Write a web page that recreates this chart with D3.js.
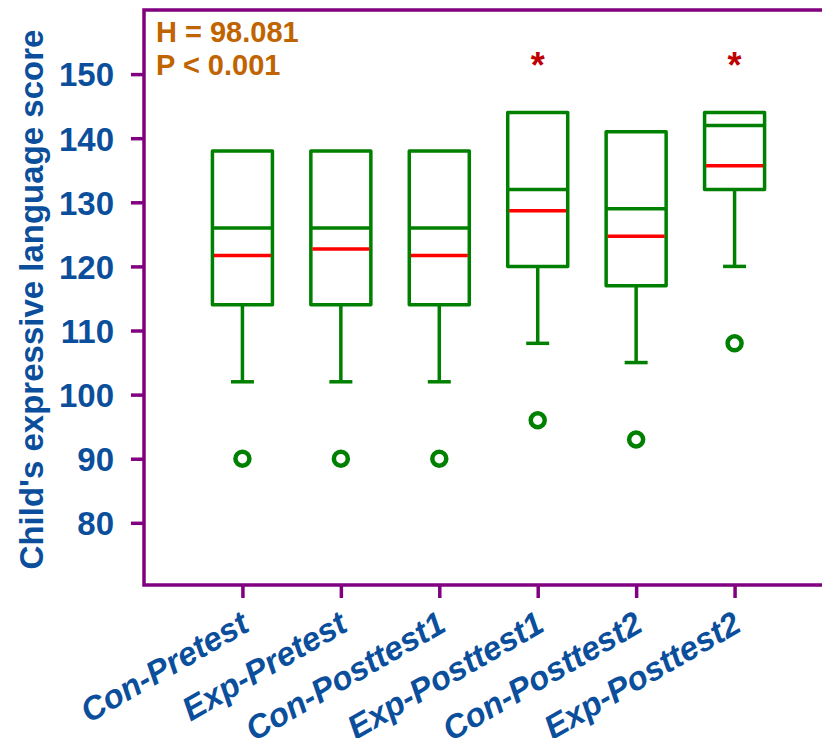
<!DOCTYPE html>
<html>
<head>
<meta charset="utf-8">
<script src="https://cdn.jsdelivr.net/npm/d3@7"></script>
<style>
  html, body { margin: 0; padding: 0; background: #fff; }
  svg { display: block; }
  text { font-family: "Liberation Sans", Arial, sans-serif; font-weight: bold; }
</style>
</head>
<body>
<svg id="chart" width="822" height="738"></svg>
<script>
// ---- data ----
const categories = ["Con-Pretest", "Exp-Pretest", "Con-Posttest1", "Exp-Posttest1", "Con-Posttest2", "Exp-Posttest2"];
const q1Values      = [114, 114, 114, 120, 117, 132];
const medianValues  = [126, 126, 126, 132, 129, 142];
const q3Values      = [138, 138, 138, 144, 141, 144];
const meanValues    = [121.7, 122.7, 121.7, 128.7, 124.7, 135.7];
const whiskerLow    = [102, 102, 102, 108, 105, 120];
const whiskerHigh   = [138, 138, 138, 144, 141, 144];
const outlierValues = [90, 90, 90, 96, 93, 108];
const significant   = ["Exp-Posttest1", "Exp-Posttest2"];
const asteriskValue = 152.3;
const yTicks = [80, 90, 100, 110, 120, 130, 140, 150];
const yDomain = [70.3, 160];
const annotations = ["H = 98.081", "P < 0.001"];
const yTitle = "Child's expressive language score";

// ---- layout ----
const plotLeft = 144, plotTop = 10, plotBottom = 585, plotRight = 833;
const axisColor = "#800080", boxColor = "#008000", meanColor = "#FF0000";
const labelColor = "#0B4F9C", annColor = "#C06400", starColor = "#C00000";

const svg = d3.select("#chart");

const x = d3.scalePoint().domain(categories).range([plotLeft, plotRight]).padding(1);
const y = d3.scaleLinear().domain(yDomain).range([plotBottom, plotTop]);

const rows = categories.map((c, i) => ({
  cat: c, q1: q1Values[i], med: medianValues[i], q3: q3Values[i],
  mean: meanValues[i], lo: whiskerLow[i], hi: whiskerHigh[i], out: outlierValues[i]
}));

const boxW = 60, capW = 23;

// frame (left, top, bottom)
svg.append("path")
  .attr("d", `M${plotRight},${plotTop} L${plotLeft},${plotTop} L${plotLeft},${plotBottom} L${plotRight},${plotBottom}`)
  .attr("fill", "none").attr("stroke", axisColor).attr("stroke-width", 3.5);

// y axis
const yAxis = svg.append("g").attr("transform", `translate(${plotLeft},0)`)
  .call(d3.axisLeft(y).tickValues(yTicks).tickSize(13).tickSizeOuter(0).tickPadding(17).tickFormat(d3.format("d")));
yAxis.select(".domain").remove();
yAxis.selectAll(".tick line").attr("stroke", axisColor).attr("stroke-width", 3.5);
yAxis.selectAll(".tick text").attr("fill", labelColor).style("font-size", "33px").attr("dy", "0.36em");

// x axis
const xAxis = svg.append("g").attr("transform", `translate(0,${plotBottom})`)
  .call(d3.axisBottom(x).tickSize(13).tickSizeOuter(0));
xAxis.select(".domain").remove();
xAxis.selectAll(".tick line").attr("stroke", axisColor).attr("stroke-width", 3.5);
xAxis.selectAll(".tick text")
  .attr("fill", labelColor).style("font-size", "33px").style("font-style", "italic")
  .attr("x", 0).attr("y", 0).attr("dy", 0)
  .attr("text-anchor", "end")
  .attr("transform", "translate(8,45) rotate(-30)");

// y title
svg.append("text")
  .attr("transform", `translate(43,${(plotTop + plotBottom) / 2 + 2}) rotate(-90)`)
  .attr("text-anchor", "middle")
  .attr("fill", labelColor).style("font-size", "33px")
  .text(yTitle);

// annotations
svg.selectAll("text.ann").data(annotations).enter().append("text")
  .attr("class", "ann")
  .attr("x", plotLeft + 12)
  .attr("y", (d, i) => 42 + i * 33)
  .attr("fill", annColor).style("font-size", "29px")
  .text(d => d);

// boxes
const g = svg.append("g").selectAll("g.box").data(rows).enter().append("g").attr("class", "box");

g.append("line")
  .attr("x1", d => x(d.cat)).attr("x2", d => x(d.cat))
  .attr("y1", d => y(d.lo)).attr("y2", d => y(d.q1))
  .attr("stroke", boxColor).attr("stroke-width", 3.5);
g.append("line")
  .attr("x1", d => x(d.cat) - capW / 2).attr("x2", d => x(d.cat) + capW / 2)
  .attr("y1", d => y(d.lo)).attr("y2", d => y(d.lo))
  .attr("stroke", boxColor).attr("stroke-width", 3.5);
g.append("line")
  .attr("x1", d => x(d.cat)).attr("x2", d => x(d.cat))
  .attr("y1", d => y(d.hi)).attr("y2", d => y(d.q3))
  .attr("stroke", boxColor).attr("stroke-width", 3.5);

g.append("rect")
  .attr("x", d => x(d.cat) - boxW / 2).attr("width", boxW)
  .attr("y", d => y(d.q3)).attr("height", d => y(d.q1) - y(d.q3))
  .attr("fill", "none").attr("stroke", boxColor).attr("stroke-width", 3.5)
  .attr("stroke-linejoin", "round");

g.append("line")
  .attr("x1", d => x(d.cat) - boxW / 2).attr("x2", d => x(d.cat) + boxW / 2)
  .attr("y1", d => y(d.med)).attr("y2", d => y(d.med))
  .attr("stroke", boxColor).attr("stroke-width", 3.5);

g.append("line")
  .attr("x1", d => x(d.cat) - boxW / 2 + 1.5).attr("x2", d => x(d.cat) + boxW / 2 - 1.5)
  .attr("y1", d => y(d.mean)).attr("y2", d => y(d.mean))
  .attr("stroke", meanColor).attr("stroke-width", 3.5);

g.append("circle")
  .attr("cx", d => x(d.cat)).attr("cy", d => y(d.out)).attr("r", 7)
  .attr("fill", "none").attr("stroke", boxColor).attr("stroke-width", 4.5);

// significance asterisks
svg.selectAll("text.star").data(significant).enter().append("text")
  .attr("class", "star")
  .attr("x", d => x(d)).attr("y", y(asteriskValue) + 19)
  .attr("text-anchor", "middle")
  .attr("fill", starColor).style("font-size", "36px")
  .text("*");
</script>
</body>
</html>
